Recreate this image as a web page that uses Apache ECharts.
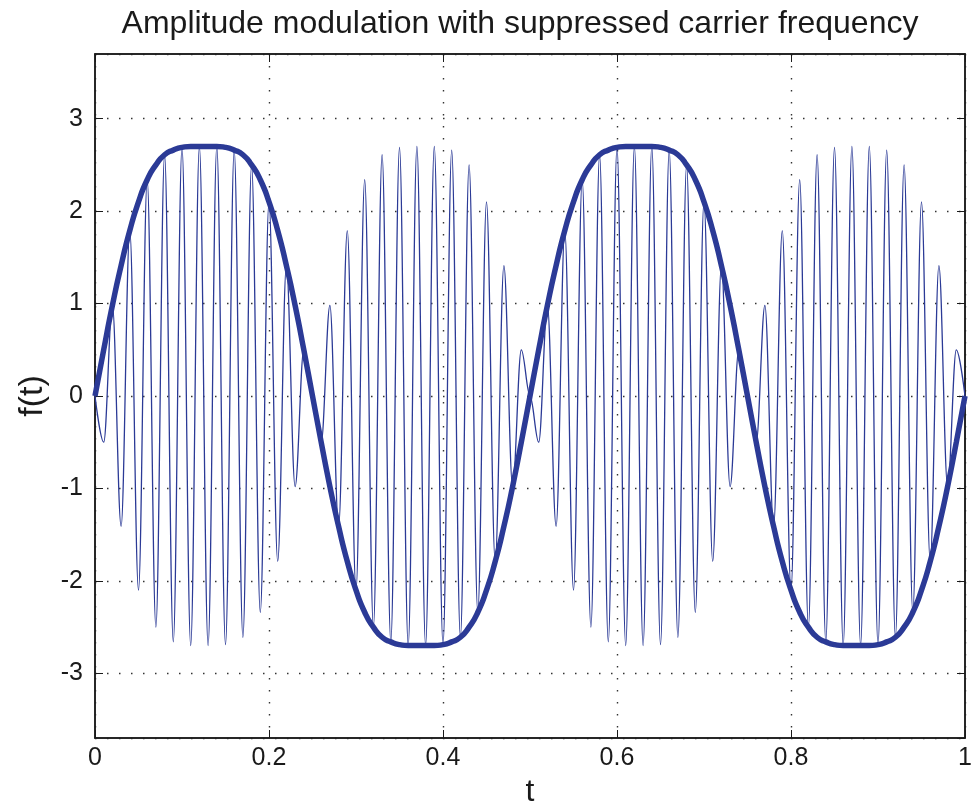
<!DOCTYPE html>
<html>
<head>
<meta charset="utf-8">
<title>Amplitude modulation with suppressed carrier frequency</title>
<script src="https://cdn.jsdelivr.net/npm/echarts@6/dist/echarts.min.js"></script>
<style>
  html, body { margin: 0; padding: 0; background: #fff; overflow: hidden; }
  #chart { width: 972px; height: 805px; }
</style>
</head>
<body>
<div id="chart"></div>
<script>
// samples are 0.01 apart in t (one per half carrier period)
const tStep = 0.01;

// thin trace: the modulated signal, read at each carrier crest / trough
const modulated = [
  0,
  -0.50, 0.98, -1.41, 1.79, -2.10, 2.34, -2.50, 2.61, -2.66, 2.69, -2.70, 2.70, -2.70,
  2.70, -2.69, 2.66, -2.61, 2.50, -2.34, 2.10, -1.79, 1.41, -0.98, 0.50, 0,
  -0.50, 0.98, -1.41, 1.79, -2.10, 2.34, -2.50, 2.61, -2.66, 2.69, -2.70, 2.70, -2.70,
  2.70, -2.69, 2.66, -2.61, 2.50, -2.34, 2.10, -1.79, 1.41, -0.98, 0.50, 0,
  -0.50, 0.98, -1.41, 1.79, -2.10, 2.34, -2.50, 2.61, -2.66, 2.69, -2.70, 2.70, -2.70,
  2.70, -2.69, 2.66, -2.61, 2.50, -2.34, 2.10, -1.79, 1.41, -0.98, 0.50, 0,
  -0.50, 0.98, -1.41, 1.79, -2.10, 2.34, -2.50, 2.61, -2.66, 2.69, -2.70, 2.70, -2.70,
  2.70, -2.69, 2.66, -2.61, 2.50, -2.34, 2.10, -1.79, 1.41, -0.98, 0.50, 0
];

// thick trace: the message f(t)
const message = [
  0,
  0.50, 0.98, 1.41, 1.79, 2.10, 2.34, 2.50, 2.61, 2.66, 2.69, 2.70, 2.70, 2.70,
  2.70, 2.69, 2.66, 2.61, 2.50, 2.34, 2.10, 1.79, 1.41, 0.98, 0.50, 0,
  -0.50, -0.98, -1.41, -1.79, -2.10, -2.34, -2.50, -2.61, -2.66, -2.69, -2.70, -2.70, -2.70,
  -2.70, -2.69, -2.66, -2.61, -2.50, -2.34, -2.10, -1.79, -1.41, -0.98, -0.50, 0,
  0.50, 0.98, 1.41, 1.79, 2.10, 2.34, 2.50, 2.61, 2.66, 2.69, 2.70, 2.70, 2.70,
  2.70, 2.69, 2.66, 2.61, 2.50, 2.34, 2.10, 1.79, 1.41, 0.98, 0.50, 0,
  -0.50, -0.98, -1.41, -1.79, -2.10, -2.34, -2.50, -2.61, -2.66, -2.69, -2.70, -2.70, -2.70,
  -2.70, -2.69, -2.66, -2.61, -2.50, -2.34, -2.10, -1.79, -1.41, -0.98, -0.50, 0
];

const tRange = [0, 1];
const fRange = [-3.7, 3.7];

const font = '"Liberation Sans", Arial, Helvetica, sans-serif';
const ink = '#1a1a1a';
const blue = '#2b3a96';

const toPairs = arr => arr.map((v, i) => [+(i * tStep).toFixed(2), v]);

const chart = echarts.init(document.getElementById('chart'));

const frameLine = { onZero: false, lineStyle: { color: ink, width: 1.5 } };
const innerTick = { inside: true, length: 8, lineStyle: { color: ink, width: 1 } };
const dotted = { show: true, lineStyle: { type: [1.5, 10.5], color: '#333', width: 1.4 } };

chart.setOption({
  animation: false,
  backgroundColor: '#fff',
  graphic: [{
    type: 'text',
    x: 520,
    y: 24,
    style: {
      text: 'Amplitude modulation with suppressed carrier frequency',
      font: '32px ' + font,
      fill: ink,
      align: 'center',
      verticalAlign: 'middle',
      textAlign: 'center',
      textVerticalAlign: 'middle'
    }
  }],
  grid: {
    left: 95, right: 7, top: 54, bottom: 67,
    outerBoundsMode: 'none', containLabel: false,
    show: true, borderColor: ink, borderWidth: 1.5
  },
  xAxis: [{
    type: 'value', min: tRange[0], max: tRange[1], interval: 0.2, position: 'bottom',
    name: 't', nameLocation: 'middle', nameGap: 34,
    nameTextStyle: { fontFamily: font, fontSize: 32, color: ink },
    axisLine: frameLine, axisTick: innerTick,
    axisLabel: { margin: 8, fontSize: 25, fontFamily: font, color: ink },
    splitLine: dotted
  }, {
    type: 'value', min: tRange[0], max: tRange[1], interval: 0.2, position: 'top',
    axisLine: frameLine, axisTick: innerTick,
    axisLabel: { show: false }, splitLine: { show: false }
  }],
  yAxis: [{
    type: 'value', min: fRange[0], max: fRange[1], splitNumber: 7, position: 'left',
    name: 'f(t)', nameLocation: 'middle', nameGap: 40, nameRotate: 90,
    nameTextStyle: { fontFamily: font, fontSize: 34, color: ink },
    axisLine: frameLine, axisTick: innerTick,
    axisLabel: { margin: 12, fontSize: 25, fontFamily: font, color: ink, showMinLabel: false, showMaxLabel: false },
    splitLine: dotted
  }, {
    type: 'value', min: fRange[0], max: fRange[1], splitNumber: 7, position: 'right',
    axisLine: frameLine, axisTick: innerTick,
    axisLabel: { show: false }, splitLine: { show: false }
  }],
  series: [{
    name: 'modulated',
    type: 'line',
    data: toPairs(modulated),
    smooth: 0.36,
    smoothMonotone: 'x',
    showSymbol: false,
    lineStyle: { color: blue, width: 1.3 },
    z: 2
  }, {
    name: 'f(t)',
    type: 'line',
    data: toPairs(message),
    smooth: 0.6,
    showSymbol: false,
    lineStyle: { color: blue, width: 5.5 },
    z: 3
  }]
});
</script>
</body>
</html>
